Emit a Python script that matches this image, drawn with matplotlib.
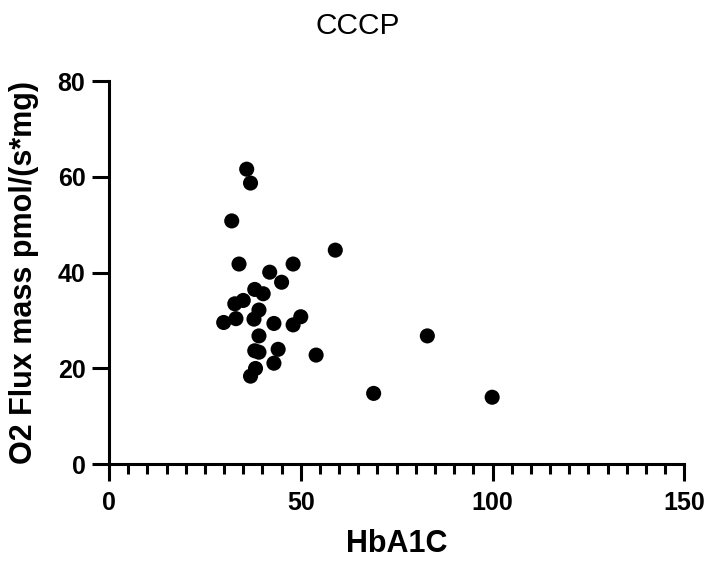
import matplotlib
matplotlib.use("Agg")
import matplotlib.pyplot as plt
from matplotlib.ticker import MultipleLocator

# ----------------------------------------------------------
# Data
# ----------------------------------------------------------

hba1c = [35.9, 36.9, 32.0, 33.9, 59.0, 41.9, 48.0, 45.0, 38.0, 40.2,
         35.0, 32.8, 33.1, 29.9, 39.1, 37.8, 43.0, 50.0, 48.0, 39.1,
         38.0, 39.1, 44.1, 54.0, 43.0, 38.2, 36.9, 69.0, 83.0, 99.9]
o2_flux = [61.6, 58.7, 50.8, 41.8, 44.7, 40.1, 41.8, 38.0, 36.5, 35.6,
           34.2, 33.5, 30.4, 29.6, 32.2, 30.3, 29.4, 30.8, 29.1, 26.8,
           23.7, 23.4, 24.0, 22.8, 21.1, 20.0, 18.4, 14.8, 26.8, 14.0]

x_ticks = [0, 50, 100, 150]
y_ticks = [0, 20, 40, 60, 80]

# ----------------------------------------------------------
# Plot
# ----------------------------------------------------------

plt.rcParams["font.family"] = ["Liberation Sans", "DejaVu Sans"]

fig = plt.figure(figsize=(7.12, 5.63), dpi=100)
ax = fig.add_axes([0.1531, 0.1753, 0.808, 0.6808])

ax.scatter(hba1c, o2_flux, s=118, color="black", edgecolors="none",
           clip_on=False, zorder=3)

ax.set_xlim(0, 150)
ax.set_ylim(0, 80)
ax.set_xticks(x_ticks)
ax.set_yticks(y_ticks)
ax.xaxis.set_minor_locator(MultipleLocator(5))

for side in ("top", "right"):
    ax.spines[side].set_visible(False)
for side in ("left", "bottom"):
    ax.spines[side].set_linewidth(2.2)
    ax.spines[side].set_capstyle("projecting")

ax.tick_params(which="major", length=12, width=2.2, labelsize=18)
ax.tick_params(axis="x", which="major", pad=7)
ax.tick_params(axis="y", which="major", pad=5)
ax.tick_params(which="minor", length=7, width=2.2)
for lab in ax.get_xticklabels() + ax.get_yticklabels():
    lab.set_fontweight("bold")

ax.set_xlabel("HbA1C", fontsize=22, fontweight="bold", va="center")
ax.set_ylabel("O2 Flux mass pmol/(s*mg)", fontsize=22, fontweight="bold",
              va="center")
ax.xaxis.set_label_coords(0.5, -0.208)
ax.yaxis.set_label_coords(-0.148, 0.5)

fig.text(0.503, 0.953, "CCCP", ha="center", va="center", fontsize=21.5)

fig.savefig("out.png", dpi=100)
